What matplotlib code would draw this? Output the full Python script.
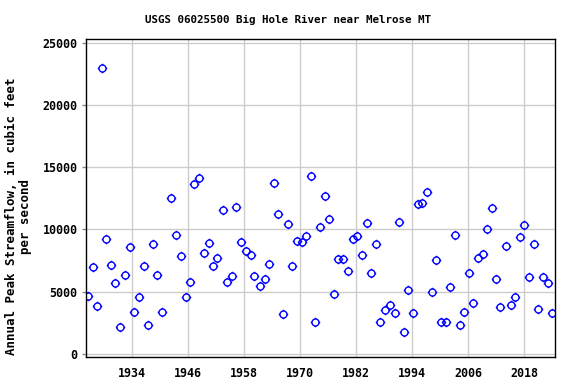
import matplotlib
matplotlib.use('Agg')
import matplotlib.pyplot as plt
import numpy as np
from matplotlib.path import Path

# peak date (decimal year) and annual peak streamflow (cfs)
peak_dates = [1924.6, 1925.6, 1926.4, 1927.6, 1928.4, 1929.5, 1930.4, 1931.4, 1932.4, 1933.6,
              1934.4, 1935.5, 1936.6, 1937.4, 1938.4, 1939.4, 1940.4, 1942.3, 1943.4, 1944.5,
              1945.6, 1946.4, 1947.3, 1948.4, 1949.4, 1950.5, 1951.4, 1952.1, 1953.5, 1954.4,
              1955.4, 1956.3, 1957.4, 1958.4, 1959.5, 1960.1, 1961.4, 1962.4, 1963.4, 1964.4,
              1965.3, 1966.3, 1967.4, 1968.2, 1969.3, 1970.4, 1971.3, 1972.3, 1973.2, 1974.2,
              1975.4, 1976.2, 1977.3, 1978.2, 1979.2, 1980.2, 1981.3, 1982.2, 1983.3, 1984.3,
              1985.2, 1986.2, 1987.1, 1988.1, 1989.2, 1990.3, 1991.2, 1992.2, 1993.1, 1994.2,
              1995.2, 1996.1, 1997.2, 1998.3, 1999.1, 2000.1, 2001.2, 2002.1, 2003.2, 2004.3,
              2005.1, 2006.2, 2007.1, 2008.1, 2009.1, 2010.1, 2011.1, 2012.0, 2012.9, 2014.1,
              2015.2, 2016.1, 2017.1, 2018.0, 2019.1, 2020.2, 2021.0, 2022.1, 2023.1, 2024.0]
peak_flow = [4600, 6940, 3870, 23000, 9190, 7100, 5650, 2180, 6290, 8550,
             3390, 4540, 7020, 2340, 8790, 6290, 3390, 12500, 9520, 7820,
             4520, 5730, 13630, 14110, 8070, 8870, 7020, 7660, 11530, 5730,
             6210, 11770, 8950, 8230, 7900, 6230, 5430, 5990, 7180, 13730,
             11230, 3170, 10430, 7040, 9060, 8980, 9460, 14300, 2520, 10190,
             12690, 10830, 4780, 7610, 7610, 6640, 9220, 9460, 7900, 10510,
             6480, 8820, 2520, 3490, 3900, 3310, 10590, 1770, 5110, 3250,
             12040, 12120, 12980, 5000, 7520, 2520, 2520, 5350, 9520, 2280,
             3390, 6450, 4110, 7660, 7980, 10000, 11690, 5990, 3730, 8630,
             3950, 4540, 9360, 10320, 6130, 8790, 3630, 6130, 5650, 3310]

x_ticks = [1934, 1946, 1958, 1970, 1982, 1994, 2006, 2018]
y_ticks = [0, 5000, 10000, 15000, 20000, 25000]

# circle (as a fine polygon) with four little ticks, like the USGS plots
t = 1.35
ang = np.linspace(0, 2 * np.pi, 41)
circ = Path(np.column_stack([np.cos(ang), np.sin(ang)]))
marker_path = Path.make_compound_path(
    circ,
    Path([[0, 1], [0, t]], [Path.MOVETO, Path.LINETO]),
    Path([[0, -1], [0, -t]], [Path.MOVETO, Path.LINETO]),
    Path([[1, 0], [t, 0]], [Path.MOVETO, Path.LINETO]),
    Path([[-1, 0], [-t, 0]], [Path.MOVETO, Path.LINETO]),
)

mono = 'DejaVu Sans Mono'

fig = plt.figure(figsize=(5.76, 3.84), dpi=100)
ax = fig.add_axes([86 / 576, 1 - 357 / 384, 469 / 576, 318 / 384])

ax.plot(peak_dates, peak_flow, linestyle='none', marker=marker_path, markersize=6.8,
        markerfacecolor='none', markeredgecolor='#0000ff', markeredgewidth=1.0,
        antialiased=False)

ax.set_xlim(1924.1, 2024.6)
ax.set_ylim(-270, 25320)
ax.set_xticks(x_ticks)
ax.set_yticks(y_ticks)
ax.grid(True, color='#cccccc', linewidth=1)
ax.set_axisbelow(True)

for s in ax.spines.values():
    s.set_linewidth(1)
    s.set_color('black')

ax.tick_params(axis='x', length=0, pad=7)
ax.tick_params(axis='y', length=3, width=1, pad=3, color='#888888')
for lab in ax.get_xticklabels() + ax.get_yticklabels():
    lab.set_fontfamily(mono)
    lab.set_fontweight('bold')
    lab.set_fontsize(8.4)

fig.text(0.5, 1 - 20 / 384, 'USGS 06025500 Big Hole River near Melrose MT',
         ha='center', va='center', family=mono, fontweight='bold', fontsize=7.8)
fig.text(18.5 / 576, 1 - 216 / 384, 'Annual Peak Streamflow, in cubic feet\nper second',
         ha='center', va='center', rotation=90, multialignment='center',
         family=mono, fontweight='bold', fontsize=9, linespacing=1.0)

fig.savefig('out.png', dpi=100)
